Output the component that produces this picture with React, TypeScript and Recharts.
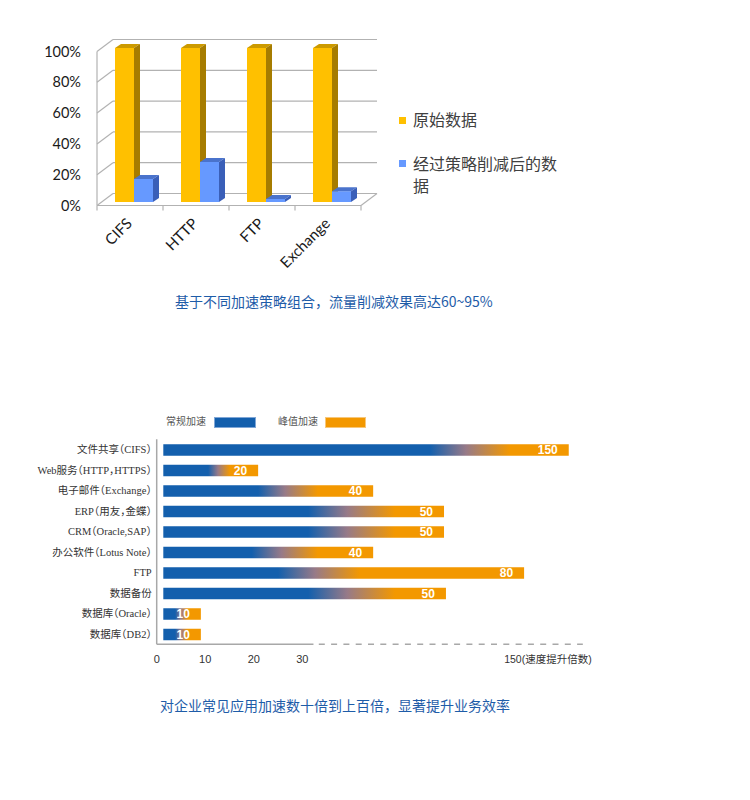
import React from 'react';
import { BarChart, Bar, XAxis, YAxis, CartesianGrid, Legend } from 'recharts';

// ---------------- Top chart data ----------------
const protocols = ['CIFS', 'HTTP', 'FTP', 'Exchange'];
const originalData = [100, 100, 100, 100];
const reducedData = [15, 26, 2, 7];
const percentTicks = [0, 20, 40, 60, 80, 100];
const topSeriesNames = ['原始数据', '经过策略削减后的数据'];
const topCaption = '基于不同加速策略组合，流量削减效果高达60~95%';

// ---------------- Bottom chart data ----------------
const apps = [
  '文件共享（CIFS）',
  'Web服务（HTTP，HTTPS）',
  '电子邮件（Exchange）',
  'ERP（用友，金蝶）',
  'CRM（Oracle,SAP）',
  '办公软件（Lotus Note）',
  'FTP',
  '数据备份',
  '数据库（Oracle）',
  '数据库（DB2）',
];
const speedupLabels = [150, 20, 40, 50, 50, 40, 80, 50, 10, 10];
// drawn bar lengths in axis units (the axis is not proportional to the labels)
const barLengths = [84.9, 20.9, 44.6, 59.2, 59.2, 44.6, 75.7, 59.6, 9.1, 9.1];
// where the regular (blue) part fades out, and where the peak (orange) part is fully reached
const regularEnds = [56.3, 10.6, 20.9, 31.2, 31.2, 19.6, 25.0, 31.2, 3.8, 3.8];
const peakStarts = [72.8, 15.1, 33.2, 49.1, 49.1, 33.2, 41.9, 49.1, 6.4, 6.4];
const axisTicks = [0, 10, 20, 30, 71.6];
const axisTickLabels = ['0', '10', '20', '30', '150(速度提升倍数)'];
const axisMax = 90;
const axisSolidEnd = 32.3;
const axisDashStart = 33.4;
const axisDashEnd = 87.8;
const bottomSeriesNames = ['常规加速', '峰值加速'];
const bottomCaption = '对企业常见应用加速数十倍到上百倍，显著提升业务效率';

// ---------------- styles ----------------
const CJK = "'Noto Sans CJK SC', 'Noto Sans', sans-serif";
const LATO = "Lato, 'Noto Sans CJK SC', sans-serif";
const SERIF = "'Liberation Serif', 'Noto Sans CJK SC', serif";
const SANS = "'Liberation Sans', 'Noto Sans CJK SC', sans-serif";
const GRID = '#b2b2b2';
const GOLD = '#FFC000';
const GOLD_SIDE = '#A67C00';
const GOLD_TOP = '#CC9A00';
const SKY = '#6699FF';
const SKY_SIDE = '#3A5FB8';
const SKY_TOP = '#4A73CC';
const BLUE = '#135FAD';
const ORANGE = '#F39800';
const CAPTION = '#1E5CA8';
const AXIS_GRAY = '#a8a8a8';

const DX = 16;
const DY = -12;
const BAR_SHIFT_X = 4;
const BAR_SHIFT_Y = -3.5;
const BAR_DX = 6;
const BAR_DY = -4;
const BAR_INSET = 6.6;

// bottom chart layout
const B_WIDTH = 620;
const B_MARGIN_RIGHT = 26.5;
const B_YAXIS_W = 156.7;
const B_PLOT_W = B_WIDTH - B_MARGIN_RIGHT - B_YAXIS_W;
const DASH_ON = 6;
const DASH_OFF = 6.3;

function axisDashArray(): string {
  const k = B_PLOT_W / axisMax;
  const parts: number[] = [axisSolidEnd * k, (axisDashStart - axisSolidEnd) * k];
  let pos = axisDashStart * k;
  const end = axisDashEnd * k;
  while (pos < end) {
    const on = Math.min(DASH_ON, end - pos);
    parts.push(on);
    pos += on;
    if (pos >= end) break;
    parts.push(DASH_OFF);
    pos += DASH_OFF;
  }
  if (parts.length % 2 === 1) parts.push(B_PLOT_W);
  else parts[parts.length - 1] += B_PLOT_W;
  return parts.map((p) => p.toFixed(2)).join(' ');
}

function make3DBar(front: string, side: string, top: string) {
  return (props: any) => {
    const { x, y, width, height } = props;
    if (x == null || y == null || !width) return <g />;
    const fx = x + BAR_SHIFT_X;
    const fy = y + BAR_SHIFT_Y;
    const w = width;
    const h = Math.max(height, 0);
    return (
      <g>
        <rect x={fx} y={fy} width={w} height={h} fill={front} />
        <polygon
          points={`${fx},${fy} ${fx + BAR_DX},${fy + BAR_DY} ${fx + w + BAR_DX},${fy + BAR_DY} ${fx + w},${fy}`}
          fill={top}
        />
        <polygon
          points={`${fx + w},${fy} ${fx + w + BAR_DX},${fy + BAR_DY} ${fx + w + BAR_DX},${fy + h + BAR_DY} ${fx + w},${fy + h}`}
          fill={side}
        />
      </g>
    );
  };
}

const GoldBar = make3DBar(GOLD, GOLD_SIDE, GOLD_TOP);
const SkyBar = make3DBar(SKY, SKY_SIDE, SKY_TOP);

const gridLine = (props: any) => {
  const { x1, y1, x2, index } = props;
  return (
    <g key={`grid-${index}`}>
      <line x1={x1} y1={y1} x2={x1 + DX} y2={y1 + DY} stroke={GRID} strokeWidth={1.2} />
      <line x1={x1 + DX} y1={y1 + DY} x2={x2 + DX} y2={y1 + DY} stroke={GRID} strokeWidth={1.2} />
      {index === 0 && <line x1={x2} y1={y1} x2={x2 + DX} y2={y1 + DY} stroke={GRID} strokeWidth={1.2} />}
    </g>
  );
};

const TopXTick = (props: any) => {
  const { x, y, payload, index } = props;
  const half = payload && typeof payload.offset === 'number' && payload.offset > 0 ? payload.offset : 33;
  const tx = x + 3;
  const ty = y + 19;
  return (
    <g>
      <line x1={x - half} y1={y} x2={x - half} y2={y + 5} stroke={GRID} strokeWidth={1.2} />
      {index === protocols.length - 1 && (
        <line x1={x + half} y1={y} x2={x + half} y2={y + 5} stroke={GRID} strokeWidth={1.2} />
      )}
      <text
        x={tx}
        y={ty}
        transform={`rotate(-45 ${tx} ${ty})`}
        textAnchor="end"
        fontSize={15}
        fontFamily={LATO}
        fill="#1a1a1a"
      >
        {payload.value}
      </text>
    </g>
  );
};

const TopLegend = () => (
  <div style={{ fontFamily: CJK, fontSize: 16, color: '#404040', lineHeight: '22px' }}>
    <div style={{ display: 'flex', alignItems: 'flex-start' }}>
      <span style={{ width: 7, height: 7, background: GOLD, marginTop: 8.5, marginRight: 7, flex: 'none' }} />
      <span>{topSeriesNames[0]}</span>
    </div>
    <div style={{ display: 'flex', alignItems: 'flex-start', marginTop: 22 }}>
      <span style={{ width: 7, height: 7, background: SKY, marginTop: 8, marginRight: 7, flex: 'none' }} />
      <span style={{ width: 150 }}>{topSeriesNames[1]}</span>
    </div>
  </div>
);

const GradientBar = (props: any) => {
  const { x, y, width, height, index, payload } = props;
  if (x == null || !width) return <g />;
  const px = (v: number) => x + (width * v) / payload.length;
  const id = `speed-grad-${index}`;
  const left = x + BAR_INSET;
  const right = x + width;
  return (
    <g>
      <defs>
        <linearGradient id={id} gradientUnits="userSpaceOnUse" x1={px(payload.regular)} y1={0} x2={px(payload.peak)} y2={0}>
          <stop offset="0" stopColor={BLUE} />
          <stop offset="0.45" stopColor="#977A88" />
          <stop offset="1" stopColor={ORANGE} />
        </linearGradient>
      </defs>
      <rect x={left} y={y} width={right - left} height={height} fill={`url(#${id})`} />
      <text
        x={right - 11}
        y={y + height / 2}
        dy="0.36em"
        textAnchor="end"
        fill="#ffffff"
        fontWeight="bold"
        fontSize={12}
        fontFamily={SANS}
      >
        {payload.label}
      </text>
    </g>
  );
};

const BottomYTick = (props: any) => {
  const { x, y, payload } = props;
  return (
    <text
      x={x}
      y={y}
      dy="0.36em"
      textAnchor="end"
      fontSize={10.5}
      fill="#333"
      fontFamily={SERIF}
      style={{ fontFeatureSettings: '"halt"' }}
    >
      {payload.value}
    </text>
  );
};

const BottomXTick = (props: any) => {
  const { x, y, payload } = props;
  let i = axisTicks.indexOf(payload.value);
  if (i < 0) i = 0;
  const isEnd = i === axisTicks.length - 1;
  return (
    <text
      x={x}
      y={y}
      dy="0.71em"
      textAnchor={isEnd ? 'start' : 'middle'}
      fontSize={isEnd ? 10.5 : 11}
      fill="#333"
      fontFamily={SANS}
    >
      {axisTickLabels[i]}
    </text>
  );
};

const BottomLegend = () => (
  <div style={{ position: 'relative', height: 24, fontFamily: CJK, fontSize: 10, color: '#555' }}>
    <span style={{ position: 'absolute', left: 6, top: 14, lineHeight: '14px' }}>{bottomSeriesNames[0]}</span>
    <span
      style={{
        position: 'absolute',
        left: 54,
        top: 16.5,
        width: 42,
        height: 11,
        background: BLUE,
        boxSizing: 'border-box',
        border: '1px solid #7fa6d6',
      }}
    />
    <span style={{ position: 'absolute', left: 118, top: 14, lineHeight: '14px' }}>{bottomSeriesNames[1]}</span>
    <span
      style={{
        position: 'absolute',
        left: 165,
        top: 16.5,
        width: 41,
        height: 11,
        background: ORANGE,
        boxSizing: 'border-box',
        border: '1px solid #f7c77a',
      }}
    />
  </div>
);

export default function App() {
  const topData = protocols.map((p, i) => ({ name: p, original: originalData[i], reduced: reducedData[i] }));
  const bottomData = apps.map((a, i) => ({
    name: a,
    label: speedupLabels[i],
    length: barLengths[i],
    regular: regularEnds[i],
    peak: peakStarts[i],
  }));
  const dash = axisDashArray();

  return (
    <div style={{ position: 'absolute', left: 0, top: 0, width: 750, height: 800, background: '#fff' }}>
      <div style={{ position: 'absolute', left: 0, top: 0 }}>
        <BarChart
          width={600}
          height={290}
          data={topData}
          margin={{ top: 51.5, right: 239, bottom: 24.5, left: 0 }}
          barGap={0}
        >
          <CartesianGrid vertical={false} horizontal={gridLine} />
          <XAxis
            dataKey="name"
            interval={0}
            height={60}
            tickSize={0}
            tickMargin={0}
            tickLine={false}
            axisLine={{ stroke: GRID, strokeWidth: 1.2 }}
            tick={<TopXTick />}
          />
          <YAxis
            type="number"
            domain={[0, 100]}
            ticks={percentTicks}
            interval={0}
            tickFormatter={(v: number) => `${v}%`}
            width={97}
            axisLine={{ stroke: GRID, strokeWidth: 1.2 }}
            tickLine={false}
            tickSize={0}
            tickMargin={16}
            tick={{ fontSize: 14.5, fill: '#1a1a1a', fontFamily: LATO }}
          />
          <Bar dataKey="original" name={topSeriesNames[0]} fill={GOLD} barSize={19} shape={GoldBar} isAnimationActive={false} />
          <Bar dataKey="reduced" name={topSeriesNames[1]} fill={SKY} barSize={19} shape={SkyBar} isAnimationActive={false} />
          <Legend
            layout="horizontal"
            verticalAlign="middle"
            align="center"
            wrapperStyle={{ left: 399, top: 108, width: 175 }}
            content={() => <TopLegend />}
          />
        </BarChart>
      </div>

      <div
        style={{
          position: 'absolute',
          left: 175,
          top: 290,
          fontFamily: CJK,
          fontSize: 14,
          lineHeight: '22px',
          color: CAPTION,
          whiteSpace: 'nowrap',
        }}
      >
        {topCaption}
      </div>

      <div style={{ position: 'absolute', left: 0, top: 400 }}>
        <BarChart
          layout="vertical"
          width={B_WIDTH}
          height={280}
          data={bottomData}
          margin={{ top: 39.25, right: B_MARGIN_RIGHT, bottom: 5.75, left: 0 }}
        >
          <XAxis
            type="number"
            domain={[0, axisMax]}
            ticks={axisTicks}
            interval={0}
            height={30}
            axisLine={{ stroke: AXIS_GRAY, strokeWidth: 1.5, strokeDasharray: dash }}
            tickLine={false}
            tickSize={0}
            tickMargin={11}
            tick={<BottomXTick />}
          />
          <YAxis
            type="category"
            dataKey="name"
            width={B_YAXIS_W}
            interval={0}
            axisLine={{ stroke: AXIS_GRAY, strokeWidth: 1.5 }}
            tickLine={false}
            tickSize={0}
            tickMargin={5}
            tick={<BottomYTick />}
          />
          <Bar dataKey="length" barSize={11.5} shape={GradientBar} isAnimationActive={false} />
          <Legend
            layout="horizontal"
            verticalAlign="middle"
            align="center"
            wrapperStyle={{ left: 160, top: 0, width: 230 }}
            content={() => <BottomLegend />}
          />
        </BarChart>
      </div>

      <div
        style={{
          position: 'absolute',
          left: 160,
          top: 694,
          fontFamily: CJK,
          fontSize: 14,
          lineHeight: '22px',
          color: CAPTION,
          whiteSpace: 'nowrap',
        }}
      >
        {bottomCaption}
      </div>
    </div>
  );
}
